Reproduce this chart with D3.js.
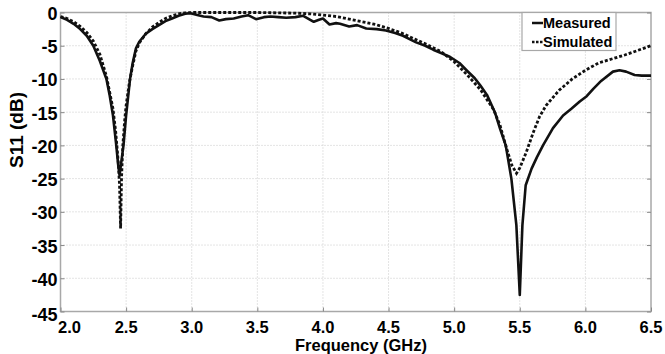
<!DOCTYPE html>
<html>
<head>
<meta charset="utf-8">
<script src="https://cdn.jsdelivr.net/npm/d3@7"></script>
<style>
  body { margin: 0; background: #fff; }
  svg { display: block; font-family: "Liberation Sans", Arial, sans-serif; font-weight: bold; }
</style>
</head>
<body>
<svg id="chart"></svg>
<script>
// frequency (GHz) / S11 (dB)
const measFreq = [2.00, 2.05, 2.10, 2.15, 2.20, 2.25, 2.30, 2.35, 2.375, 2.40, 2.425, 2.44, 2.45, 2.46, 2.48, 2.50, 2.53, 2.55, 2.575, 2.60, 2.65, 2.70, 2.75, 2.80, 2.85, 2.90, 2.95, 2.99,
  3.05, 3.09, 3.15, 3.21, 3.26, 3.32, 3.38, 3.43, 3.49, 3.55, 3.60, 3.66, 3.72, 3.79, 3.85, 3.93, 3.97, 4.00, 4.05, 4.10, 4.13, 4.20, 4.26, 4.33, 4.41, 4.48, 4.55, 4.61, 4.66, 4.71, 4.78, 4.84, 4.90, 4.97,
  5.04, 5.10, 5.157, 5.20, 5.25, 5.31, 5.35, 5.393, 5.436, 5.474, 5.50, 5.52, 5.545, 5.59, 5.63, 5.677, 5.753, 5.83, 5.893, 5.957, 6.01, 6.06, 6.12, 6.21, 6.26, 6.31, 6.375, 6.43, 6.50];
const measS11 = [-0.7, -1.1, -1.7, -2.5, -3.5, -5.0, -7.3, -10.0, -12.5, -15.5, -20, -23, -24.5, -23, -20, -15.5, -10, -7.6, -5.4, -4.4, -3.2, -2.5, -1.9, -1.3, -0.9, -0.5, -0.2, -0.1,
  -0.4, -0.6, -0.7, -1.2, -1.0, -0.9, -0.6, -0.4, -1.0, -0.7, -0.6, -0.7, -0.8, -0.7, -0.5, -1.4, -1.1, -0.9, -1.8, -1.6, -1.7, -2.1, -1.9, -2.4, -2.5, -2.7, -3.1, -3.5, -4.0, -4.5, -5.0, -5.6, -6.1, -6.7,
  -7.6, -8.8, -9.9, -11.0, -12.4, -15.0, -17.5, -20, -25, -32, -42.5, -32, -26, -23.5, -21.8, -20, -17.4, -15.5, -14.5, -13.4, -12.6, -11.5, -10.3, -8.9, -8.7, -8.9, -9.4, -9.5, -9.5];

const simFreq = [2.00, 2.05, 2.10, 2.15, 2.20, 2.25, 2.30, 2.35, 2.38, 2.40, 2.42, 2.44, 2.45, 2.458, 2.465, 2.475, 2.49, 2.50, 2.525, 2.55, 2.575, 2.60, 2.65, 2.70, 2.75, 2.80, 2.85, 2.90, 2.95, 3.00,
  3.50, 3.80, 3.90, 4.00, 4.10, 4.20, 4.30, 4.40, 4.50, 4.60, 4.70, 4.80, 4.90, 5.00, 5.10, 5.20, 5.30, 5.35, 5.40, 5.44, 5.475, 5.50, 5.55, 5.60, 5.65, 5.70, 5.80, 5.90, 6.00, 6.10, 6.20, 6.30, 6.40, 6.50];
const simS11 = [-0.6, -0.9, -1.4, -2.1, -3.0, -4.3, -6.3, -9.6, -12.5, -14.5, -17.8, -22.5, -26, -32.5, -25, -20, -16, -14, -10.5, -8.0, -5.8, -4.6, -3.2, -2.2, -1.5, -0.9, -0.5, -0.2, -0.05, 0,
  0, -0.1, -0.2, -0.4, -0.6, -1.0, -1.4, -1.8, -2.4, -3.1, -4.0, -4.9, -5.9, -7.4, -9.4, -11.6, -14.6, -17.0, -20.5, -23.0, -24.2, -23.4, -21.0, -18.2, -15.7, -14.0, -11.7, -10.0, -8.7, -7.6, -7.0, -6.4, -5.7, -5.0];

const xTicks = [2.0, 2.5, 3.0, 3.5, 4.0, 4.5, 5.0, 5.5, 6.0, 6.5];
const yTicks = [0, -5, -10, -15, -20, -25, -30, -35, -40, -45];
const seriesNames = ["Measured", "Simulated"];

const width = 665, height = 354;
const marginLeft = 60.5, marginRight = 14, marginTop = 12.5, marginBottom = 42.5;

const svg = d3.select("#chart").attr("width", width).attr("height", height);

const x = d3.scaleLinear().domain([2.0, 6.5]).range([marginLeft, width - marginRight]);
const y = d3.scaleLinear().domain([-45, 0]).range([height - marginBottom, marginTop]);

// grid
svg.append("g")
    .attr("stroke", "#c8c8c8")
    .attr("stroke-dasharray", "1,2")
    .selectAll("line")
    .data(xTicks.slice(1, -1))
    .join("line")
      .attr("x1", d => x(d)).attr("x2", d => x(d))
      .attr("y1", y(0)).attr("y2", y(-45));
svg.append("g")
    .attr("stroke", "#c8c8c8")
    .attr("stroke-dasharray", "1,2")
    .selectAll("line")
    .data(yTicks.slice(1, -1))
    .join("line")
      .attr("y1", d => y(d)).attr("y2", d => y(d))
      .attr("x1", x(2.0)).attr("x2", x(6.5));

// frame
svg.append("rect")
    .attr("x", x(2.0)).attr("y", y(0))
    .attr("width", x(6.5) - x(2.0)).attr("height", y(-45) - y(0))
    .attr("fill", "none").attr("stroke", "#a8a8a8").attr("stroke-width", 1.5);

// axes (inward ticks, labels drawn separately)
const xAxis = svg.append("g")
    .attr("transform", `translate(0,${y(-45)})`)
    .call(d3.axisTop(x).tickValues(xTicks).tickSize(4).tickFormat(""));
xAxis.select(".domain").remove();
xAxis.selectAll("line").attr("stroke", "#888");
const yAxis = svg.append("g")
    .attr("transform", `translate(${x(2.0)},0)`)
    .call(d3.axisRight(y).tickValues(yTicks).tickSize(4).tickFormat(""));
yAxis.select(".domain").remove();
yAxis.selectAll("line").attr("stroke", "#888");
const yAxisR = svg.append("g")
    .attr("transform", `translate(${x(6.5)},0)`)
    .call(d3.axisLeft(y).tickValues(yTicks).tickSize(4).tickFormat(""));
yAxisR.select(".domain").remove();
yAxisR.selectAll("line").attr("stroke", "#888");

// tick labels
svg.append("g")
    .attr("font-size", 18)
    .attr("text-anchor", "end")
    .selectAll("text")
    .data(yTicks)
    .join("text")
      .attr("x", x(2.0) - 3)
      .attr("y", d => y(d) + (d === -45 ? 3 : 1))
      .attr("dy", "0.36em")
      .text(d => d);
svg.append("g")
    .attr("font-size", 16.5)
    .attr("text-anchor", "middle")
    .selectAll("text")
    .data(xTicks)
    .join("text")
      .attr("x", (d, i) => x(d) + (i === 0 ? 9 : 0))
      .attr("y", y(-45) + 21)
      .text(d => d.toFixed(1));

// axis titles
svg.append("text")
    .attr("x", 361).attr("y", height - 3.5)
    .attr("text-anchor", "middle").attr("font-size", 16.5)
    .text("Frequency (GHz)");
svg.append("text")
    .attr("transform", `translate(23,130) rotate(-90)`)
    .attr("text-anchor", "middle").attr("font-size", 19)
    .text("S11 (dB)");

// curves
const line = d3.line().x(d => x(d[0])).y(d => y(d[1]));
const measured = d3.zip(measFreq, measS11);
const simulated = d3.zip(simFreq, simS11);

svg.append("path")
    .datum(measured)
    .attr("fill", "none").attr("stroke", "#111").attr("stroke-width", 2.6)
    .attr("stroke-linejoin", "round")
    .attr("d", line);
svg.append("path")
    .datum(simulated)
    .attr("fill", "none").attr("stroke", "#111").attr("stroke-width", 2.8)
    .attr("stroke-dasharray", "3,2")
    .attr("d", line);

// legend
const legend = svg.append("g");
legend.append("rect")
    .attr("x", 522).attr("y", y(0))
    .attr("width", 94).attr("height", 38)
    .attr("fill", "#fff").attr("stroke", "#a8a8a8").attr("stroke-width", 1.2);
seriesNames.forEach((name, i) => {
  const ly = 23 + i * 19;
  legend.append("line")
      .attr("x1", 532).attr("x2", 543).attr("y1", ly).attr("y2", ly)
      .attr("stroke", "#111").attr("stroke-width", 2.5)
      .attr("stroke-dasharray", i === 1 ? "2.5,1.5" : null);
  legend.append("text")
      .attr("x", 543).attr("y", ly).attr("dy", "0.36em")
      .attr("font-size", 14.5)
      .text(name);
});
</script>
</body>
</html>
